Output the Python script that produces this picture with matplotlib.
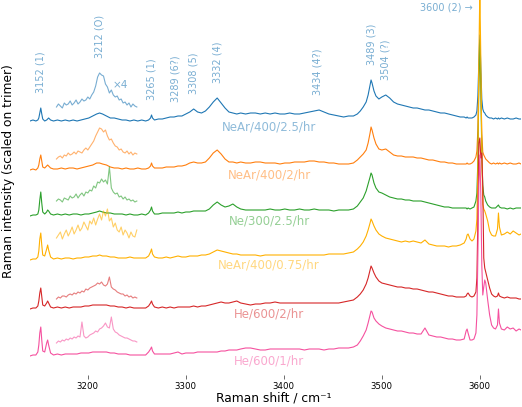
import matplotlib
matplotlib.use('Agg')
import matplotlib.pyplot as plt
import numpy as np

# Raman shift grid (cm^-1)
shift = [3141, 3144, 3147, 3149, 3150, 3151, 3152, 3153, 3154, 3156, 3158, 3159, 3160, 3162, 3165,
         3169, 3173, 3177, 3181, 3185, 3189, 3193, 3197, 3201, 3205, 3209, 3212, 3215, 3219, 3223, 3227, 3231, 3235, 3239, 3243, 3247, 3251, 3255, 3259,
         3262, 3264, 3265, 3266, 3268, 3272, 3276, 3280, 3284, 3288, 3292, 3296, 3300, 3304, 3308, 3312, 3316, 3320, 3324, 3328, 3332, 3336, 3340, 3344, 3348, 3352, 3356,
         3361, 3366, 3371, 3376, 3381, 3386, 3391, 3396, 3401, 3406, 3411, 3416, 3421, 3426, 3431, 3436, 3441, 3446, 3451, 3456, 3461, 3466, 3471, 3475,
         3478, 3481, 3484, 3486, 3488, 3489, 3490, 3492, 3494, 3497, 3500, 3504, 3508, 3512, 3516, 3520, 3524, 3528, 3532, 3536, 3540, 3544, 3548, 3552, 3556, 3560, 3564, 3568, 3572, 3576, 3580, 3584,
         3586, 3587, 3588, 3590, 3592, 3594, 3596, 3597, 3598, 3599, 3600, 3601, 3602, 3603, 3604, 3605, 3606, 3608, 3610, 3612, 3614, 3616, 3618, 3619, 3620, 3622, 3625, 3628, 3631, 3634, 3637, 3640, 3642]

near_25 = [0, 1, 0, 1, 3, 8, 13, 7, 2, 0, 1, 2, 3, 1, 0,
           1, 0, 1, 0, 1, 0, 1, 2, 3, 5, 7, 8, 7, 5, 3, 3, 2, 1, 1, 0, 1, 0, 1, 0,
           1, 3, 6, 3, 1, 2, 2, 3, 4, 4, 5, 5, 7, 9, 12, 9, 8, 10, 14, 19, 23, 18, 13, 9, 8, 7, 8,
           7, 8, 8, 7, 8, 7, 8, 7, 7, 8, 7, 7, 8, 9, 10, 11, 9, 7, 6, 5, 4, 5, 5, 7,
           10, 14, 19, 26, 36, 41, 38, 30, 25, 22, 24, 26, 23, 19, 17, 16, 15, 14, 13, 13, 12, 11, 11, 10, 9, 8, 8, 7, 6, 5, 4, 4,
           3, 4, 3, 3, 3, 4, 6, 10, 25, 60, 86, 55, 22, 12, 9, 8, 6, 4, 3, 3, 2, 3, 2, 3, 2, 3, 2, 3, 2, 2, 3, 2, 2]

near_2 = [-1, 0, -1, 1, 4, 10, 14, 8, 2, 1, 3, 4, 3, 1, 0,
          0, 1, 0, 1, 1, 0, 1, 2, 3, 4, 6, 6, 5, 4, 2, 1, 1, 0, 1, 0, 0, 1, 0, 0,
          1, 3, 6, 3, 1, 1, 1, 2, 2, 2, 3, 3, 4, 6, 7, 6, 6, 7, 11, 16, 19, 15, 10, 7, 7, 6, 7,
          6, 6, 7, 7, 6, 6, 6, 5, 6, 6, 7, 7, 7, 8, 8, 7, 7, 6, 6, 5, 5, 5, 6, 9,
          12, 15, 19, 26, 36, 42, 39, 31, 25, 20, 19, 20, 17, 14, 13, 13, 12, 12, 12, 11, 11, 10, 9, 9, 8, 7, 7, 6, 6, 5, 5, 5,
          5, 6, 5, 5, 6, 8, 12, 18, 40, 90, 118, 85, 35, 17, 14, 12, 10, 8, 6, 5, 6, 5, 6, 5, 6, 5, 6, 5, 6, 5, 5, 6, 5]

ne_25 = [-1, 0, 0, 1, 5, 15, 23, 12, 3, 1, 3, 5, 4, 1, 0,
         1, 0, 1, 0, 1, 1, 0, 1, 1, 2, 3, 4, 3, 2, 2, 1, 1, 1, 0, 1, 0, 0, 1, 0,
         2, 5, 8, 4, 1, 1, 2, 2, 2, 2, 3, 2, 3, 3, 4, 4, 4, 4, 6, 10, 13, 10, 8, 9, 11, 8, 6,
         5, 5, 5, 5, 5, 6, 5, 5, 6, 5, 5, 6, 5, 5, 6, 5, 5, 5, 4, 5, 5, 5, 6, 9,
         13, 17, 24, 31, 38, 42, 40, 32, 27, 23, 22, 20, 18, 17, 16, 16, 15, 15, 14, 14, 14, 13, 12, 11, 10, 9, 8, 8, 7, 7, 7, 7,
         7, 6, 7, 6, 7, 8, 14, 22, 55, 130, 175, 130, 60, 30, 20, 18, 14, 10, 8, 7, 7, 7, 9, 10, 8, 7, 7, 6, 7, 6, 7, 7, 7]

near_075 = [-1, 0, 0, 2, 8, 20, 26, 14, 4, 3, 10, 14, 9, 2, 0,
            1, 0, 1, 1, 0, 1, 1, 2, 2, 3, 3, 4, 3, 3, 2, 2, 1, 1, 1, 2, 1, 1, 1, 1,
            3, 7, 10, 5, 2, 1, 1, 2, 1, 2, 3, 2, 2, 3, 3, 3, 4, 4, 5, 7, 9, 8, 7, 6, 5, 5, 4,
            4, 4, 4, 3, 4, 4, 4, 4, 4, 4, 4, 4, 4, 4, 4, 4, 4, 5, 5, 5, 5, 6, 7, 10,
            13, 17, 23, 29, 36, 40, 38, 33, 29, 25, 23, 21, 20, 19, 18, 17, 18, 17, 18, 17, 16, 19, 15, 14, 13, 13, 13, 12, 13, 13, 14, 16,
            20, 24, 25, 20, 18, 20, 28, 40, 90, 200, 270, 200, 110, 55, 50, 48, 45, 38, 28, 24, 23, 23, 30, 46, 32, 24, 25, 27, 25, 28, 26, 24, 25]

he_2 = [-1, 0, 0, 2, 7, 15, 20, 11, 3, 2, 5, 7, 5, 1, 0,
        1, 0, 1, 0, 1, 1, 1, 2, 2, 3, 3, 3, 3, 3, 2, 2, 1, 1, 0, 1, 0, 0, 0, 0,
        2, 5, 7, 4, 1, 0, 1, 0, 1, 0, 1, 1, 1, 1, 2, 1, 2, 2, 3, 4, 5, 6, 5, 5, 6, 7, 5,
        4, 3, 4, 4, 5, 5, 6, 5, 5, 5, 5, 5, 5, 5, 5, 5, 5, 5, 5, 5, 6, 7, 8, 11,
        14, 18, 24, 30, 38, 42, 40, 35, 31, 27, 25, 24, 23, 22, 21, 21, 20, 20, 19, 19, 18, 17, 16, 16, 15, 14, 13, 12, 12, 11, 11, 11,
        12, 14, 15, 12, 11, 12, 16, 30, 90, 165, 170, 150, 155, 120, 50, 40, 36, 28, 20, 14, 12, 11, 12, 15, 12, 11, 10, 11, 10, 10, 10, 9, 9]

he_1 = [-1, 0, 0, 3, 10, 22, 28, 15, 4, 3, 12, 15, 10, 2, 0,
        1, 0, 1, 1, 1, 1, 2, 2, 2, 3, 3, 3, 3, 3, 2, 2, 1, 1, 1, 0, 0, 0, 0, 0,
        3, 6, 8, 4, 1, 1, 1, 1, 1, 2, 3, 1, 2, 2, 2, 3, 3, 3, 3, 3, 3, 4, 4, 5, 5, 5, 6,
        7, 7, 6, 5, 5, 6, 6, 6, 6, 6, 6, 6, 5, 6, 6, 6, 5, 6, 6, 7, 7, 7, 8, 10,
        14, 19, 25, 32, 40, 44, 43, 37, 34, 31, 29, 27, 26, 25, 24, 24, 23, 22, 22, 21, 21, 27, 20, 19, 18, 18, 17, 16, 16, 15, 15, 16,
        24, 26, 22, 15, 15, 16, 22, 40, 100, 170, 200, 160, 90, 60, 68, 75, 72, 55, 40, 30, 27, 26, 30, 46, 32, 26, 25, 28, 26, 27, 24, 26, 25]

# x4 magnified region (3168-3250 cm^-1)
inset_shift = [3168, 3170, 3172, 3174, 3176, 3178, 3180, 3182, 3184, 3186, 3188, 3190, 3192, 3194,
               3196, 3198, 3200, 3202, 3204, 3206, 3208, 3210, 3212, 3214, 3216, 3218, 3220, 3222,
               3224, 3226, 3228, 3230, 3232, 3234, 3236, 3238, 3240, 3242, 3244, 3246, 3248, 3250]
inset_near_25 = [14, 17, 15, 13, 18, 16, 17, 20, 16, 18, 21, 17, 19, 22, 20, 21, 24, 22, 26, 29, 35,
                 44, 48, 46, 45, 37, 34, 28, 31, 26, 24, 25, 21, 22, 18, 19, 16, 18, 14, 17, 15, 14]
inset_near_2 = [10, 12, 13, 11, 14, 13, 16, 14, 15, 17, 15, 18, 17, 16, 19, 21, 19, 22, 25, 28, 33,
                37, 41, 40, 37, 39, 33, 29, 30, 26, 23, 22, 19, 20, 17, 16, 18, 15, 17, 14, 16, 15]
inset_ne_25 = [14, 16, 15, 13, 17, 16, 15, 19, 17, 18, 21, 17, 20, 22, 19, 23, 22, 25, 24, 29, 27,
               33, 32, 36, 33, 35, 31, 48, 27, 23, 21, 22, 18, 19, 16, 18, 15, 16, 14, 15, 13, 14]
inset_near_075 = [21, 24, 27, 20, 25, 29, 23, 27, 32, 25, 29, 34, 28, 31, 37, 33, 29, 38, 35, 41, 34,
                  40, 45, 39, 48, 43, 50, 38, 41, 32, 36, 29, 27, 32, 24, 29, 26, 21, 27, 23, 22, 29]
inset_he_2 = [9, 11, 10, 12, 12, 11, 13, 14, 13, 15, 14, 16, 15, 17, 16, 19, 18, 20, 21, 22, 23,
              25, 24, 26, 23, 22, 24, 31, 21, 19, 18, 16, 15, 14, 14, 12, 13, 11, 12, 10, 11, 10]
inset_he_1 = [12, 14, 13, 15, 14, 16, 15, 17, 16, 18, 17, 19, 18, 33, 19, 17, 18, 20, 21, 22, 24,
              23, 26, 27, 29, 32, 28, 27, 38, 26, 23, 22, 20, 19, 18, 17, 17, 16, 15, 14, 14, 13]

names = ["NeAr/400/2.5/hr", "NeAr/400/2/hr", "Ne/300/2.5/hr",
         "NeAr/400/0.75/hr", "He/600/2/hr", "He/600/1/hr"]
spectra = [near_25, near_2, ne_25, near_075, he_2, he_1]
insets = [inset_near_25, inset_near_2, inset_ne_25, inset_near_075, inset_he_2, inset_he_1]
colors = ['#1f77b4', '#ff7f0e', '#2ca02c', '#ffb000', '#d62728', '#f5519f']
offsets = [234, 186, 140, 96, 47, 0]

peak_pos = [3152, 3212, 3265, 3289, 3308, 3332, 3434, 3489, 3504]
peak_text = ["3152 (1)", "3212 (O)", "3265 (1)", "3289 (6?)", "3308 (5)",
             "3332 (4)", "3434 (4?)", "3489 (3)", "3504 (?)"]

for s in spectra:
    assert len(s) == len(shift), len(s)
for s in insets:
    assert len(s) == len(inset_shift), len(s)

fig = plt.figure(figsize=(5.22, 4.07), dpi=100)
ax = fig.add_axes([30 / 522, 32 / 407, 491 / 522, 375 / 407])

x = np.array(shift)
xi = np.array(inset_shift)
for name, s, ins, c, off in zip(names, spectra, insets, colors, offsets):
    ax.plot(x, np.array(s) + off, color=c, lw=0.8)
    ax.plot(xi, np.array(ins) + off, color=c, lw=0.8, alpha=0.6)
    ax.text(3385, off - 6, name, color=c, alpha=0.5, fontsize=8.5,
            ha='center', va='center')

# peak labels on top trace
top = np.array(spectra[0])
top_in = np.array(insets[0])
for p, t in zip(peak_pos, peak_text):
    m = top[(x >= p - 2) & (x <= p + 2)].max()
    sel = (xi >= p - 2) & (xi <= p + 2)
    if sel.any():
        m = max(m, top_in[sel].max())
    ax.annotate(t, (p, offsets[0] + m), xytext=(0, 11), textcoords='offset points',
                rotation=90, ha='center', va='bottom', fontsize=7,
                color=colors[0], alpha=0.6)

ax.text(3593, 348, "3600 (2) \u2192", ha='right', va='center', fontsize=7,
        color=colors[0], alpha=0.6)
ax.text(3225, offsets[0] + 36, "\u00d74", ha='left', va='center', fontsize=7.5,
        color=colors[0], alpha=0.6)

ax.set_xlim(3141, 3642)
ax.set_ylim(-20, 355)
for sp in ax.spines.values():
    sp.set_visible(False)
ax.set_yticks([])
ax.set_xticks([3200, 3300, 3400, 3500, 3600])
ax.tick_params(axis='x', length=3, width=0.6, color='#555555', labelsize=6.2, pad=2)
ax.set_xlabel("Raman shift / cm\u207b\u00b9", fontsize=8.8)
ax.xaxis.set_label_coords(0.497, -0.045)
ax.set_ylabel("Raman intensity (scaled on trimer)", fontsize=8.8)
ax.yaxis.set_label_coords(-0.031, 0.543)

fig.savefig('out.png', dpi=100)
